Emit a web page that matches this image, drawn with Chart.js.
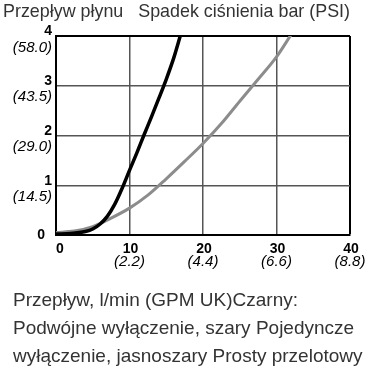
<!DOCTYPE html>
<html>
<head>
<meta charset="utf-8">
<script src="https://cdn.jsdelivr.net/npm/chart.js@4/dist/chart.umd.min.js"></script>
<style>
  html, body { margin: 0; padding: 0; background: #fff; }
  #wrap { width: 372px; height: 366px; }
</style>
</head>
<body>
<div id="wrap"><canvas id="chart"></canvas></div>
<script>
// data
const blackX = [0, 2, 4, 5, 6, 7, 8, 9, 10, 11, 12, 13, 14, 15, 16, 17];
const blackY = [0.02, 0.03, 0.07, 0.12, 0.22, 0.38, 0.62, 0.94, 1.3, 1.65, 2.02, 2.38, 2.75, 3.13, 3.55, 4.05];
const grayX = [0, 2.5, 5, 7.5, 10, 12.5, 15, 17.5, 20, 22.5, 25, 27.5, 30, 32];
const grayY = [0.05, 0.08, 0.17, 0.34, 0.54, 0.8, 1.13, 1.48, 1.84, 2.24, 2.69, 3.13, 3.58, 4.03];

const xTicks = [0, 10, 20, 30, 40];
const xSubLabels = ['', '(2.2)', '(4.4)', '(6.6)', '(8.8)'];
const yTicks = [0, 1, 2, 3, 4];
const ySubLabels = ['', '(14.5)', '(29.0)', '(43.5)', '(58.0)'];

const titleText = 'Przepływ płynu   Spadek ciśnienia bar (PSI)';
const captionLines = [
  'Przepływ, l/min (GPM UK)Czarny:',
  'Podwójne wyłączenie, szary Pojedyncze',
  'wyłączenie, jasnoszary Prosty przelotowy'
];

const FONT = "'Liberation Sans', Arial, sans-serif";

const toPoints = (xs, ys) => xs.map((x, i) => ({ x: x, y: ys[i] }));

// tick labels with a bold number and an italic value in brackets under it,
// plus the caption under the chart
const tickLabels = {
  id: 'tickLabels',
  afterDraw(chart) {
    const { ctx, scales: { x, y } } = chart;
    ctx.save();
    ctx.fillStyle = '#000';
    ctx.textBaseline = 'middle';

    yTicks.forEach((v, i) => {
      const py = y.getPixelForValue(v);
      ctx.textAlign = 'right';
      ctx.font = 'bold 14px ' + FONT;
      if (v === 0) {
        ctx.fillText(String(v), 45, py);
      } else {
        ctx.fillText(String(v), 52, py - 4.5);
        ctx.font = 'italic 15px ' + FONT;
        ctx.fillText(ySubLabels[i], 52, py + 11.5);
      }
    });

    xTicks.forEach((v, i) => {
      const px = x.getPixelForValue(v);
      ctx.textAlign = 'center';
      ctx.font = 'bold 14px ' + FONT;
      ctx.fillText(String(v), v === 0 ? px + 4 : px + 1, 249);
      if (xSubLabels[i]) {
        ctx.font = 'italic 15px ' + FONT;
        ctx.fillText(xSubLabels[i], px, 262);
      }
    });

    ctx.fillStyle = '#333';
    ctx.textAlign = 'left';
    ctx.font = '19px ' + FONT;
    captionLines.forEach((line, i) => {
      ctx.fillText(line, 13, 301 + i * 28);
    });
    ctx.restore();
  }
};

const gridColor = (max) => (c) => (c.tick && c.tick.value === max ? '#000' : '#555');
const gridWidth = (max) => (c) => (c.tick && c.tick.value === max ? 2 : 1.5);

new Chart(document.getElementById('chart'), {
  type: 'line',
  data: {
    datasets: [
      {
        label: 'Czarny',
        data: toPoints(blackX, blackY),
        borderColor: '#000',
        borderWidth: 3.5,
        pointRadius: 0,
        cubicInterpolationMode: 'monotone'
      },
      {
        label: 'Szary',
        data: toPoints(grayX, grayY),
        borderColor: '#8c8c8c',
        borderWidth: 3,
        pointRadius: 0,
        cubicInterpolationMode: 'monotone'
      }
    ]
  },
  options: {
    responsive: true,
    maintainAspectRatio: false,
    animation: false,
    layout: { padding: { left: 3, right: 22, top: 0, bottom: 0 } },
    plugins: {
      legend: { display: false },
      tooltip: { enabled: false },
      title: {
        display: true,
        text: titleText,
        align: 'start',
        color: '#333',
        font: { family: FONT, size: 19, weight: 'normal', lineHeight: 1.2 },
        padding: { top: 0, bottom: 13.2 }
      }
    },
    scales: {
      x: {
        type: 'linear',
        min: 0,
        max: 40,
        ticks: { display: false, stepSize: 10 },
        grid: { drawTicks: false, color: gridColor(40), lineWidth: gridWidth(40) },
        border: { display: true, color: '#000', width: 2 },
        afterFit: (scale) => { scale.height = 131; }
      },
      y: {
        min: 0,
        max: 4,
        ticks: { display: false, stepSize: 1 },
        grid: { drawTicks: false, color: gridColor(4), lineWidth: gridWidth(4) },
        border: { display: true, color: '#000', width: 2 },
        afterFit: (scale) => { scale.width = 53; }
      }
    }
  },
  plugins: [tickLabels]
});
</script>
</body>
</html>
